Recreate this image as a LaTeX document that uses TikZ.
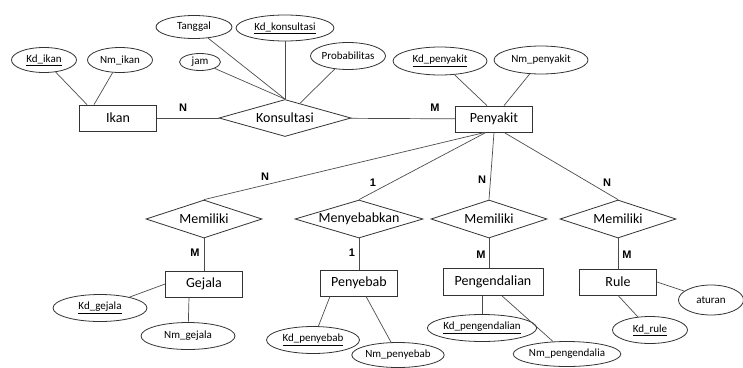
\documentclass[tikz,border=0pt]{standalone}
\usepackage{fontspec}
\setmainfont{Carlito}
\newfontfamily\cardfont{Liberation Sans}
\usetikzlibrary{shapes.geometric, positioning, calc}

\begin{document}
\begin{tikzpicture}[x=1pt, y=-1pt,
    entity/.style={draw=black!80, line width=0.8pt, minimum width=77pt, minimum height=26pt, inner sep=0pt, font=\fontsize{14}{16}\selectfont},
    attr/.style={draw=black!80, line width=0.8pt, ellipse, minimum width=94pt, minimum height=27pt, inner sep=0pt, font=\fontsize{11}{13}\selectfont},
    rel/.style={draw=black!80, line width=0.8pt, diamond, shape aspect=3.3, minimum width=116pt, minimum height=38pt, inner sep=0pt, font=\fontsize{14}{16}\selectfont},
    card/.style={inner sep=0pt, font=\cardfont\fontsize{11}{13}\selectfont\bfseries},
    link/.style={black!70, line width=0.7pt}
]
    \useasboundingbox (0,0) rectangle (743,367);

    \node[entity] at (118,118) (ikan) {Ikan};
    \node[attr, minimum width=65pt, minimum height=25pt] at (44,60) (kdikan) {\underline{Kd\_ikan}};
    \node[attr, minimum width=65pt, minimum height=25pt] at (120,60) (nmikan) {Nm\_ikan};

    \node[rel, minimum width=132pt, minimum height=37pt] at (285,118) (konsul) {Konsultasi};
    \node[attr, minimum width=76pt, minimum height=23pt] at (194,27) (tanggal) {Tanggal};
    \node[attr, minimum width=98pt, minimum height=26pt] at (285,28) (kdkons) {\underline{Kd\_konsultasi}};
    \node[attr, minimum width=41pt, minimum height=17pt] at (200,62) (jam) {jam};
    \node[attr, minimum width=75pt, minimum height=27pt] at (348,56) (prob) {Probabilitas};

    \node[entity] at (494,119) (penyakit) {Penyakit};
    \node[attr, minimum height=28pt] at (440,61) (kdpenyakit) {\underline{Kd\_penyakit}};
    \node[attr, minimum height=28pt] at (541,60) (nmpenyakit) {Nm\_penyakit};

    \node[rel] at (204,219) (memgejala) {Memiliki};
    \node[rel, minimum width=128pt] at (359,219) (menyebab) {Menyebabkan};
    \node[rel] at (489,219) (mempeng) {Memiliki};
    \node[rel] at (618,219) (memrule) {Memiliki};

    \node[entity] at (204,284) (gejala) {Gejala};
    \node[entity] at (359,283) (penyebab) {Penyebab};
    \node[entity, minimum width=100pt, minimum height=27pt] at (493,282) (pengendalian) {Pengendalian};
    \node[entity] at (618,282) (rule) {Rule};

    \node[attr] at (100,308) (kdgejala) {\underline{Kd\_gejala}};
    \node[attr] at (188,336) (nmgejala) {Nm\_gejala};
    \node[attr, minimum width=93pt] at (313,340) (kdpenyebab) {\underline{Kd\_penyebab}};
    \node[attr, minimum width=90pt, minimum height=25pt] at (398,355) (nmpenyebab) {Nm\_penyebab};
    \node[attr, minimum width=102pt] at (482,328) (kdpeng) {\underline{Kd\_pengendalian}};
    \node[attr, minimum width=103pt, minimum height=25pt] at (567,354) (nmpeng) {Nm\_pengendalia};
    \node[attr, minimum width=75pt] at (650,330) (kdrule) {\underline{Kd\_rule}};
    \node[attr, minimum width=65pt, minimum height=30pt] at (711,300) (aturan) {aturan};

    \node[card] at (183,108) (cardikan) {N};
    \node[card] at (435,108) (cardpenyakit) {M};
    \node[card] at (265,177) (cardmemgejala) {N};
    \node[card] at (373,183) (cardmenyebab) {1};
    \node[card] at (482,180) (cardmempeng) {N};
    \node[card] at (607,183) (cardmemrule) {N};
    \node[card] at (195,253) (cardgejala) {M};
    \node[card] at (352,253) (cardpenyebab) {1};
    \node[card] at (481,255) (cardpeng) {M};
    \node[card] at (627,255) (cardrule) {M};

    \draw[link] (kdikan) -- ([xshift=-31pt]ikan.north);
    \draw[link] (nmikan) -- ([xshift=-24pt]ikan.north);
    \draw[link] (ikan) -- (konsul);
    \draw[link] (konsul) -- (penyakit);
    \draw[link] (jam) -- (konsul.north);
    \draw[link] (tanggal) -- (konsul.north);
    \draw[link] (kdkons) -- (konsul.north);
    \draw[link] (prob) -- (konsul);
    \draw[link] (kdpenyakit) -- ([xshift=-7pt]penyakit.north);
    \draw[link] (nmpenyakit) -- ([xshift=10pt]penyakit.north);

    \draw[link] ([xshift=-9pt]penyakit.south) -- (memgejala.north);
    \draw[link] ([xshift=-8pt]penyakit.south) -- (menyebab.north);
    \draw[link] (penyakit.south) -- (mempeng.north);
    \draw[link] ([xshift=10pt]penyakit.south) -- (memrule.north);

    \draw[link] (memgejala) -- (gejala);
    \draw[link] (menyebab) -- (penyebab);
    \draw[link] (mempeng.south) -- (mempeng.south |- pengendalian.north);
    \draw[link] (memrule) -- (rule);

    \draw[link] (kdgejala) -- (gejala.west);
    \draw[link] (nmgejala) -- ([xshift=-15pt]gejala.south);
    \draw[link] (kdpenyebab) -- ([xshift=-29pt]penyebab.south);
    \draw[link] (nmpenyebab) -- ([xshift=7pt]penyebab.south);
    \draw[link] (kdpeng.north) -- (kdpeng.north |- pengendalian.south);
    \draw[link] (nmpeng) -- ([xshift=9pt]pengendalian.south);
    \draw[link] (kdrule) -- (rule.south);
    \draw[link] (aturan) -- (rule.east);
\end{tikzpicture}
\end{document}
